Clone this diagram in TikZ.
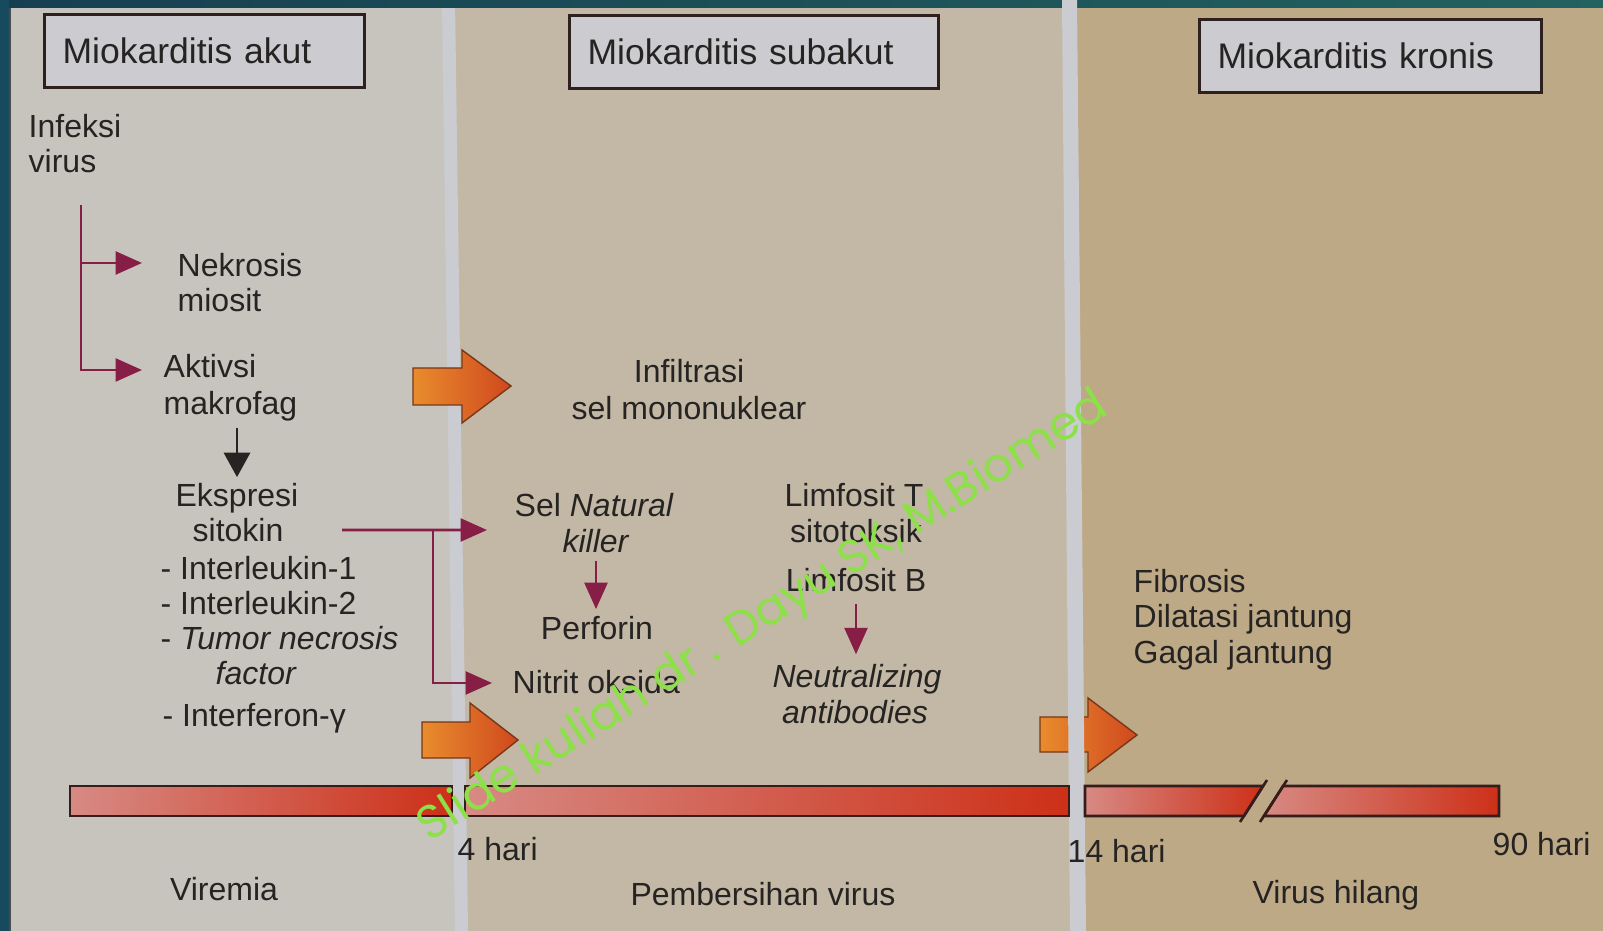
\documentclass[tikz,border=0pt]{standalone}
\usepackage{fontspec}
\usepackage{graphicx}
\setmainfont{Liberation Sans}
\newfontfamily\wmfont{Poppins}
\usetikzlibrary{arrows.meta}
\definecolor{teal1}{RGB}{23,63,82}
\definecolor{teal2}{RGB}{34,98,95}
\definecolor{tealL}{RGB}{24,74,93}
\definecolor{panelA}{RGB}{199,196,190}
\definecolor{panelB}{RGB}{195,184,165}
\definecolor{panelC}{RGB}{190,169,135}
\definecolor{stripC}{RGB}{202,204,209}
\definecolor{hdrfill}{RGB}{204,203,207}
\definecolor{hdrline}{RGB}{45,32,30}
\definecolor{txt}{RGB}{38,36,34}
\definecolor{maroonC}{RGB}{135,30,70}
\definecolor{orL}{RGB}{232,140,45}
\definecolor{orR}{RGB}{208,72,30}
\definecolor{orLine}{RGB}{120,55,25}
\definecolor{barL}{RGB}{215,138,132}
\definecolor{barR}{RGB}{205,48,24}
\definecolor{barline}{RGB}{55,28,28}
\definecolor{wmgreen}{RGB}{140,224,72}
\begin{document}
\begin{tikzpicture}[x=0.01cm,y=-0.01cm,
  t/.style={inner sep=0pt, text=txt, font=\fontsize{9.1}{10}\selectfont},
  tl/.style={t, anchor=base west},
  tc/.style={t, anchor=base},
  hdr/.style={draw=hdrline, line width=0.9pt, fill=hdrfill, anchor=north west,
    minimum height=0.73cm, inner xsep=0.18cm, inner ysep=0pt, align=left,
    text=txt, font=\fontsize{10.1}{12}\selectfont},
  mar/.style={draw=maroonC, line width=0.8pt, -{Triangle[length=7.5pt,width=6.5pt]}},
  blk/.style={draw=txt, line width=0.7pt, -{Triangle[length=7pt,width=7.5pt]}},
  bigarrow/.style={draw=orLine, line width=0.4pt, left color=orL, right color=orR},
  barseg/.style={draw=barline, line width=0.75pt, left color=barL, right color=barR},
  slash/.style={draw=barline, line width=0.75pt},
]
\useasboundingbox (0,0) rectangle (1603,931);
% panels
\fill[panelC] (0,0) rectangle (1603,931);
\fill[panelB] (448,0) -- (1070,0) -- (1078,931) -- (461,931) -- cycle;
\fill[panelA] (0,0) -- (448,0) -- (461,931) -- (0,931) -- cycle;
\fill[stripC] (442,0) -- (455,0) -- (468,931) -- (455,931) -- cycle;
% frame
\shade[left color=teal1, right color=teal2] (0,0) rectangle (1603,8);
\fill[tealL] (0,0) rectangle (9,931);
\draw[line width=0.5pt, black!70] (10,8) -- (10,931);
% big arrows
\draw[bigarrow] (413,368) -- (462,368) -- (462,350) -- (511,386) -- (462,423) -- (462,405) -- (413,405) -- cycle;
\draw[bigarrow] (422,722) -- (470,722) -- (470,703) -- (518,740) -- (470,778) -- (470,758) -- (422,758) -- cycle;
\draw[bigarrow] (1040,717) -- (1088,717) -- (1088,698) -- (1137,735) -- (1088,772) -- (1088,752) -- (1040,752) -- cycle;
\fill[stripC] (1062,0) -- (1077,0) -- (1086,931) -- (1070,931) -- cycle;
% timeline bar
\draw[barseg] (70,786) rectangle (452,816);
\draw[barseg] (465,786) rectangle (1069,816);
\draw[barseg] (1085,786) -- (1263,786) -- (1244,816) -- (1085,816) -- cycle;
\draw[slash] (1267,780) -- (1240,822);
\draw[barseg] (1283,786) -- (1499,786) -- (1499,816) -- (1264,816) -- cycle;
\draw[slash] (1287,780) -- (1260,822);
% headers
\node[hdr, text width=2.84cm] (h1) at (43,13) {Miokarditis akut};
\node[hdr, text width=3.33cm] (h2) at (568,14) {Miokarditis subakut};
\node[hdr, text width=3.06cm] (h3) at (1198,18) {Miokarditis kronis};
% left panel
\node[tl] (inf1) at (28,138) {Infeksi};
\node[tl] (inf2) at (28,173) {virus};
\node[tl] (nek1) at (177,277) {Nekrosis};
\node[tl] (nek2) at (177,312) {miosit};
\node[tl] (akt1) at (163,378) {Aktivsi};
\node[tl] (akt2) at (163,415) {makrofag};
\node[tc] (eks1) at (237,507) {Ekspresi};
\node[tc] (eks2) at (238,542) {sitokin};
\node[tl] (il1) at (160,580) {- Interleukin-1};
\node[tl] (il2) at (160,615) {- Interleukin-2};
\node[tl] (tnf1) at (160,650) {- \textit{Tumor necrosis}};
\node[tl] (tnf2) at (215,685) {\textit{factor}};
\node[tl] (ifn) at (162,727) {- Interferon-γ};
% middle panel
\node[tc] (infl1) at (689,383) {Infiltrasi};
\node[tc] (infl2) at (689,420) {sel mononuklear};
\node[tl] (nat1) at (514,517) {Sel \textit{Natural}};
\node[tc] (nat2) at (596,553) {\textit{killer}};
\node[tc] (perf) at (597,640) {Perforin};
\node[tl] (nit) at (512,693) {Nitrit oksida};
\node[tc] (lt1) at (854,507) {Limfosit T};
\node[tc] (lt2) at (856,543) {sitotoksik};
\node[tc] (lb) at (856,592) {Limfosit B};
\node[tc] (nab1) at (857,688) {\textit{Neutralizing}};
\node[tc] (nab2) at (855,723) {\textit{antibodies}};
% right panel
\node[tl] (fib) at (1133,593) {Fibrosis};
\node[tl] (dil) at (1133,628) {Dilatasi jantung};
\node[tl] (gag) at (1133,664) {Gagal jantung};
% timeline labels
\node[tl] (d4) at (457,860) {4 hari};
\node[tl] (d14) at (1067,862) {14 hari};
\node[tl] (d90) at (1492,855) {90 hari};
\node[tc] (vir) at (224,900) {Viremia};
\node[tc] (pem) at (763,905) {Pembersihan virus};
\node[tc] (vh) at (1336,903) {Virus hilang};
% connectors
\coordinate (trunk) at (81,205);
\coordinate (cyto) at (342,530);
\coordinate (cytoJ) at (433,530);
\draw[mar] (trunk) |- ([xshift=-3.5mm,yshift=1.4mm]nek1.base west);
\draw[mar] (trunk) |- ([xshift=-2.1mm,yshift=0.8mm]akt1.base west);
\draw[blk, shorten <=1.5pt, shorten >=1.7pt] (akt2.south -| eks1.north) -- (eks1.north);
\draw[mar] (cyto) -- ([xshift=-2.7mm,yshift=-1.3mm]nat1.base west);
\draw[mar] (cytoJ) |- ([xshift=-2.0mm,yshift=1.0mm]nit.base west);
\draw[mar, shorten <=2pt, shorten >=2pt] (nat2.south) -- (nat2.south |- perf.north);
\draw[mar, shorten <=3pt, shorten >=2.8pt] (lb.south) -- (lb.south |- nab1.north);
% watermark
\node[rotate=32.2, anchor=base, inner sep=0pt, text=wmgreen] (wm) at (770,628)
  {\resizebox{8.05cm}{!}{\wmfont Slide kuliah dr . Dayu SK, M.Biomed}};
\end{tikzpicture}
\end{document}
